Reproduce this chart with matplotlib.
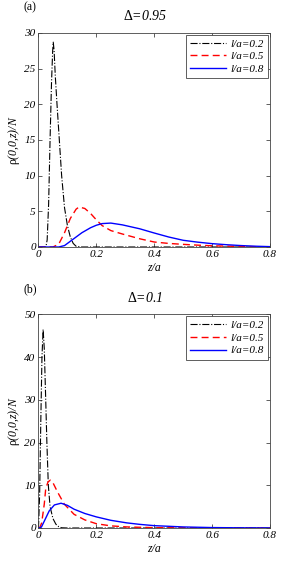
import matplotlib
matplotlib.use("Agg")
import matplotlib.pyplot as plt

plt.rcParams['font.family'] = ['Liberation Serif', 'DejaVu Serif']
plt.rcParams['mathtext.fontset'] = 'custom'
plt.rcParams['mathtext.rm'] = 'Liberation Serif'
plt.rcParams['mathtext.it'] = 'Liberation Serif:italic'

# panel (a), Delta = 0.95
za_02 = [0, 0.02, 0.026, 0.03, 0.035, 0.04, 0.045, 0.049, 0.051, 0.054, 0.058, 0.064, 0.072,
         0.08, 0.09, 0.1, 0.11, 0.12, 0.13, 0.15, 0.2, 0.4, 0.8]
ya_02 = [0, 0, 0.1, 1.0, 6.0, 15.0, 23.0, 27.5, 28.7, 27.5, 24.0, 20.0, 15.0,
         10.0, 5.5, 3.0, 1.4, 0.5, 0.1, 0.0, 0.0, 0.0, 0.0]
za_05 = [0, 0.05, 0.07, 0.09, 0.11, 0.13, 0.14, 0.16, 0.18, 0.2, 0.22, 0.25, 0.29,
         0.35, 0.4, 0.45, 0.5, 0.55, 0.6, 0.7, 0.8]
ya_05 = [0, 0, 0.4, 2.0, 4.0, 5.3, 5.6, 5.4, 4.7, 3.8, 3.0, 2.3, 1.82,
         1.15, 0.7, 0.5, 0.37, 0.26, 0.17, 0.07, 0.02]
za_08 = [0, 0.07, 0.09, 0.12, 0.15, 0.18, 0.2, 0.22, 0.25, 0.29, 0.35, 0.4, 0.45,
         0.5, 0.55, 0.6, 0.65, 0.7, 0.75, 0.8]
ya_08 = [0, 0, 0.2, 1.1, 2.0, 2.7, 3.05, 3.28, 3.35, 3.1, 2.55, 1.96, 1.4,
         0.94, 0.68, 0.47, 0.32, 0.2, 0.11, 0.05]

# panel (b), Delta = 0.1
zb_02 = [0, 0.004, 0.008, 0.012, 0.016, 0.02, 0.025, 0.029, 0.034, 0.04, 0.05, 0.06,
         0.07, 0.08, 0.1, 0.8]
yb_02 = [0, 8.0, 25.0, 40.0, 46.5, 42.0, 30.0, 20.0, 10.0, 5.0, 2.2, 0.9,
         0.3, 0.05, 0.0, 0.0]
zb_05 = [0, 0.004, 0.011, 0.02, 0.025, 0.033, 0.041, 0.05, 0.066, 0.089, 0.123, 0.16,
         0.2, 0.25, 0.305, 0.4, 0.5, 0.8]
yb_05 = [0, 0, 1.2, 5.6, 9.2, 10.8, 11.2, 10.6, 8.4, 5.6, 3.2, 1.9,
         1.0, 0.5, 0.25, 0.08, 0.02, 0.0]
zb_08 = [0, 0.01, 0.02, 0.037, 0.055, 0.078, 0.1, 0.123, 0.16, 0.2, 0.25, 0.305,
         0.35, 0.4, 0.5, 0.6, 0.7, 0.8]
yb_08 = [0, 0.2, 1.6, 4.0, 5.4, 5.8, 5.3, 4.4, 3.4, 2.6, 1.8, 1.2,
         0.85, 0.55, 0.25, 0.1, 0.04, 0.01]

labels = ['l/a=0.2', 'l/a=0.5', 'l/a=0.8']

fig = plt.figure(figsize=(2.83, 5.62), dpi=100)
ax1 = fig.add_axes([0.136, 0.5605, 0.818, 0.381])
ax2 = fig.add_axes([0.136, 0.0605, 0.818, 0.380])

panels = [
    (ax1, za_02, ya_02, za_05, ya_05, za_08, ya_08, 30, [0, 5, 10, 15, 20, 25, 30], '0.95', '(a)'),
    (ax2, zb_02, yb_02, zb_05, yb_05, zb_08, yb_08, 50, [0, 10, 20, 30, 40, 50], '0.1', '(b)'),
]

for ax, z1, y1, z2, y2, z3, y3, ymax, yt, delta, tag in panels:
    ax.plot(z1, y1, color='black', ls='-.', lw=0.8, label=labels[0])
    ax.plot(z2, y2, color='red', ls='--', lw=1.0, dashes=(5, 3), label=labels[1])
    ax.plot(z3, y3, color='blue', ls='-', lw=1.0, label=labels[2])
    ax.set_xlim(0, 0.8)
    ax.set_ylim(0, ymax)
    ax.set_xticks([0, 0.2, 0.4, 0.6, 0.8])
    ax.set_xticklabels(['0', '0.2', '0.4', '0.6', '0.8'])
    ax.set_yticks(yt)
    ax.tick_params(direction='in', top=True, right=True, length=3, width=0.6,
                   labelsize=8, pad=2, color='#444444')
    for lab in ax.get_xticklabels() + ax.get_yticklabels():
        lab.set_fontstyle('italic')
    for sp in ax.spines.values():
        sp.set_linewidth(0.6)
        sp.set_color('#444444')
    ax.set_xlabel('z/a', fontsize=8.5, style='italic', labelpad=2)
    ax.set_ylabel(r'$\mathrm{\rho}$(0,0,z)/N', fontsize=8.5, style='italic', labelpad=2)
    ax.set_title(r'$\mathrm{\Delta}$=' + delta, fontsize=10, style='italic', pad=9, x=0.46)
    ax.text(-0.037, 1.12, tag, transform=ax.transAxes, fontsize=8.5, ha='center', va='center')
    leg = ax.legend(loc='upper right', fontsize=8, handlelength=3.2, handletextpad=0.4,
                    borderaxespad=0.15, borderpad=0.4, labelspacing=0.25,
                    fancybox=False, framealpha=1)
    leg.get_frame().set_edgecolor('#444444')
    leg.get_frame().set_linewidth(0.6)
    for t in leg.get_texts():
        t.set_fontstyle('italic')

fig.savefig('out.png', dpi=100)
